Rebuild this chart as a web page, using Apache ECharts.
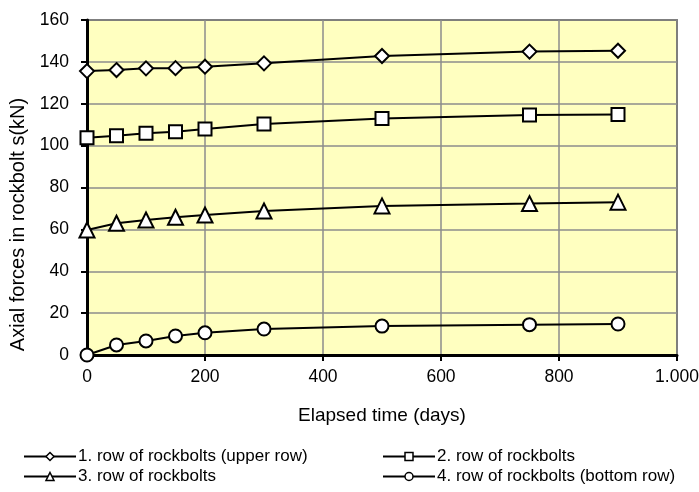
<!DOCTYPE html>
<html>
<head>
<meta charset="utf-8">
<script src="https://cdn.jsdelivr.net/npm/echarts@6/dist/echarts.min.js"></script>
<style>html,body{margin:0;padding:0;background:#fff}#c{width:699px;height:492px}</style>
</head>
<body>
<div id="c"></div>
<script>
const days = [0, 50, 100, 150, 200, 300, 500, 750, 900];
const row1 = [135.6, 136.1, 136.9, 137.0, 137.7, 139.3, 142.8, 144.9, 145.3];
const row2 = [103.8, 104.7, 105.9, 106.6, 107.9, 110.3, 113.0, 114.6, 114.9];
const row3 = [59.7, 62.9, 64.5, 65.8, 66.9, 68.8, 71.2, 72.3, 73.0];
const row4 = [0.0, 4.8, 6.7, 9.1, 10.6, 12.4, 13.8, 14.5, 14.8];
const names = ['1. row of rockbolts (upper row)', '2. row of rockbolts', '3. row of rockbolts', '4. row of rockbolts (bottom row)'];
const symbols = ['diamond', 'rect', 'triangle', 'circle'];
const sizes = [14, 13, 15, 13];
const rows = [row1, row2, row3, row4];
const FONT = 'Liberation Sans, Arial, sans-serif';

const chart = echarts.init(document.getElementById('c'), null, {renderer: 'canvas'});
const series = rows.map((r, i) => ({
  name: names[i],
  type: 'line',
  data: days.map((d, j) => [d, r[j]]),
  symbol: symbols[i],
  symbolSize: sizes[i],
  showAllSymbol: true,
  lineStyle: {color: '#000', width: 2},
  itemStyle: {color: '#fff', borderColor: '#000', borderWidth: 2},
  emphasis: {disabled: true},
  animation: false,
  z: 3
}));
const legendCommon = {
  orient: 'vertical',
  itemWidth: 52,
  itemHeight: 10,
  itemGap: 3,
  padding: 0,
  lineStyle: {width: 2, color: '#000'},
  itemStyle: {borderWidth: 1.5},
  textStyle: {fontFamily: FONT, fontSize: 17, lineHeight: 17, color: '#000', padding: [0, 0, 0, -3]},
  selectedMode: false
};
chart.setOption({
  animation: false,
  backgroundColor: '#fff',
  grid: {left: 87, right: 22, top: 20, bottom: 137, outerBoundsMode: 'none', containLabel: false,
    show: true, backgroundColor: '#FFFFC0', borderColor: '#222', borderWidth: 1.5},
  xAxis: {
    type: 'value', min: 0, max: 1000, interval: 200,
    name: 'Elapsed time (days)', nameLocation: 'middle', nameGap: 51,
    nameTextStyle: {fontFamily: FONT, fontSize: 19, color: '#000'},
    axisLine: {show: true, onZero: false, lineStyle: {color: '#000', width: 3}},
    axisTick: {show: true, length: 6, lineStyle: {color: '#000', width: 2}},
    axisLabel: {fontFamily: FONT, fontSize: 17.5, color: '#000', margin: 13,
      formatter: v => v >= 1000 ? (Math.floor(v / 1000) + '.' + String(v % 1000).padStart(3, '0')) : String(v)},
    splitLine: {show: true, lineStyle: {color: '#8c8c8c', width: 1.5}}
  },
  yAxis: {
    type: 'value', min: 0, max: 160, interval: 20,
    name: 'Axial forces in rockbolt s(kN)', nameLocation: 'middle', nameGap: 52,
    nameTextStyle: {fontFamily: FONT, fontSize: 20, color: '#000', padding: [0, 74, 0, 0]},
    axisLine: {show: true, lineStyle: {color: '#000', width: 3}},
    axisTick: {show: true, length: 6, lineStyle: {color: '#000', width: 2}},
    axisLabel: {fontFamily: FONT, fontSize: 17.5, color: '#000', margin: 18},
    splitLine: {show: true, lineStyle: {color: '#8c8c8c', width: 1.5}}
  },
  legend: [
    Object.assign({}, legendCommon, {left: 23, top: 448, data: [names[0], names[2]]}),
    Object.assign({}, legendCommon, {left: 382, top: 448, data: [names[1], names[3]]})
  ],
  series: series
});
</script>
</body>
</html>
